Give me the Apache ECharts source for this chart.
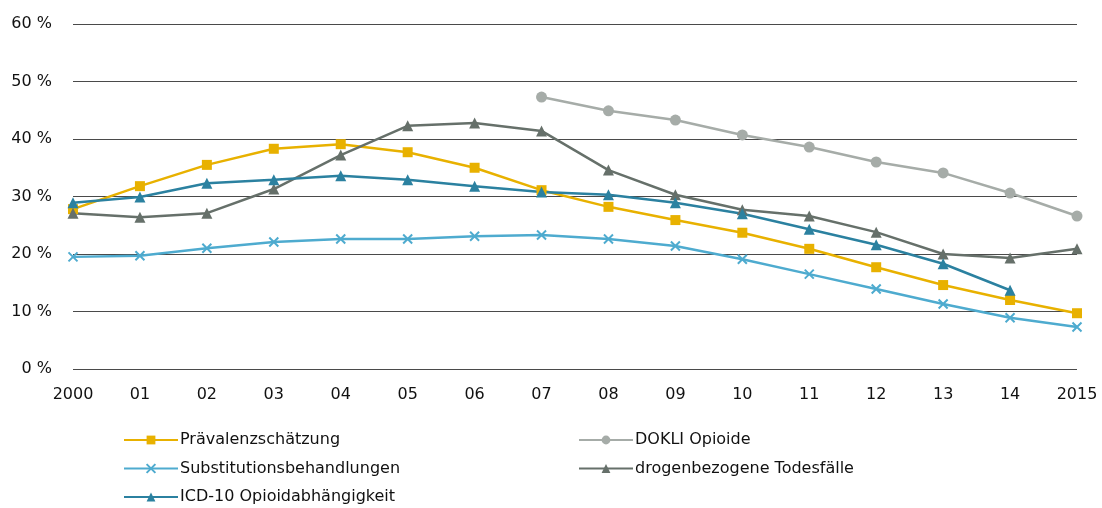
<!DOCTYPE html>
<html>
<head>
<meta charset="utf-8">
<script src="https://cdn.jsdelivr.net/npm/echarts@6/dist/echarts.min.js"></script>
<style>
  html, body { margin: 0; padding: 0; background: #fff; }
  #main { width: 1102px; height: 508px; }
</style>
</head>
<body>
<div id="main"></div>
<script>
// Jahre (x-Achse)
var years = ['2000', '01', '02', '03', '04', '05', '06', '07', '08', '09', '10', '11', '12', '13', '14', '2015'];

// Werte in Prozent
var praevalenz = [27.8, 31.8, 35.5, 38.3, 39.1, 37.7, 35.0, 31.1, 28.2, 25.9, 23.7, 20.9, 17.7, 14.6, 12.0, 9.7];
var substitution = [19.5, 19.7, 21.0, 22.1, 22.6, 22.6, 23.1, 23.3, 22.6, 21.4, 19.1, 16.5, 13.9, 11.3, 8.9, 7.3];
var icd10 = [28.9, 29.9, 32.3, 32.9, 33.6, 32.9, 31.8, 30.8, 30.3, 28.9, 27.0, 24.3, 21.6, 18.3, 13.7, null];
var dokli = [null, null, null, null, null, null, null, 47.3, 44.9, 43.3, 40.7, 38.6, 36.0, 34.1, 30.6, 26.6];
var todesfaelle = [27.1, 26.4, 27.1, 31.3, 37.2, 42.3, 42.8, 41.4, 34.6, 30.3, 27.7, 26.6, 23.8, 20.0, 19.3, 20.9];

var FONT = '"DejaVu Sans", "Noto Sans", sans-serif';

function mkLine(name, data, color, symbol, size) {
    return {
        name: name,
        type: 'line',
        data: data,
        symbol: symbol,
        symbolSize: size,
        showAllSymbol: true,
        connectNulls: false,
        lineStyle: { color: color, width: 2.5 },
        itemStyle: { color: color },
        emphasis: { disabled: true },
        z: 3
    };
}

var legendText = { fontFamily: FONT, fontSize: 16, color: '#111', padding: [0, 0, 0, -3] };

var myChart = echarts.init(document.getElementById('main'));
var option = {
    animation: false,
    textStyle: { fontFamily: FONT },
    grid: { left: 73, right: 25, top: 24, bottom: 139 },
    legend: [
        {
            data: ['Prävalenzschätzung', 'Substitutionsbehandlungen', 'ICD-10 Opioidabhängigkeit'],
            orient: 'vertical',
            left: 118, top: 427, height: 90, width: 400,
            itemWidth: 54, itemHeight: 11, itemGap: 12.5,
            textStyle: legendText
        },
        {
            data: ['DOKLI Opioide', 'drogenbezogene Todesfälle'],
            orient: 'vertical',
            left: 573, top: 427, height: 90, width: 400,
            itemWidth: 54, itemHeight: 11, itemGap: 12.5,
            textStyle: legendText
        }
    ],
    xAxis: {
        type: 'category',
        data: years,
        boundaryGap: false,
        axisLine: { show: false },
        axisTick: { show: false },
        axisLabel: { color: '#111', fontSize: 16, fontFamily: FONT, margin: 18 }
    },
    yAxis: {
        type: 'value',
        min: 0, max: 60, interval: 10,
        axisLine: { show: false },
        axisTick: { show: false },
        axisLabel: { color: '#111', fontSize: 16, fontFamily: FONT, margin: 21, formatter: '{value} %' },
        splitLine: { lineStyle: { color: '#4a4a4a', width: 1 } }
    },
    series: [
        mkLine('Prävalenzschätzung', praevalenz, '#E8B100', 'rect', 10),
        mkLine('DOKLI Opioide', dokli, '#A6ACA8', 'circle', 11),
        mkLine('Substitutionsbehandlungen', substitution, '#4EABCF', 'path://M0,0 L2,2 M2,0 L0,2', 9),
        mkLine('drogenbezogene Todesfälle', todesfaelle, '#66706A', 'triangle', 11),
        mkLine('ICD-10 Opioidabhängigkeit', icd10, '#2B81A0', 'triangle', 11)
    ]
};
// Kreuz-Marker als Strich zeichnen
option.series[2].itemStyle = { color: 'none', borderColor: '#4EABCF', borderWidth: 2 };
myChart.setOption(option);
</script>
</body>
</html>
